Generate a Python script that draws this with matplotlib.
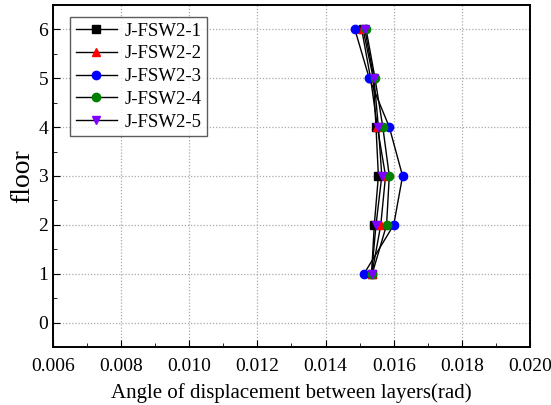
import matplotlib.pyplot as plt
import numpy as np

plt.rcParams['font.family'] = ['Liberation Serif', 'DejaVu Serif']

floors = [1, 2, 3, 4, 5, 6]
fsw1 = [0.01535, 0.01543, 0.01555, 0.01548, 0.01540, 0.01510]
fsw2 = [0.01536, 0.01562, 0.01576, 0.01552, 0.01532, 0.01506]
fsw3 = [0.01513, 0.01600, 0.01626, 0.01587, 0.01528, 0.01486]
fsw4 = [0.01537, 0.01579, 0.01587, 0.01568, 0.01545, 0.01519]
fsw5 = [0.01535, 0.01548, 0.01565, 0.01555, 0.01542, 0.01515]

names = ['J-FSW2-1', 'J-FSW2-2', 'J-FSW2-3', 'J-FSW2-4', 'J-FSW2-5']
series = [fsw1, fsw2, fsw3, fsw4, fsw5]
markers = ['s', '^', 'o', 'o', 'v']
colors = ['black', 'red', 'blue', 'green', '#8000ff']

fig = plt.figure(figsize=(5.51, 4.05), dpi=100)
ax = fig.add_axes([0.096, 0.143, 0.866, 0.845])

for vals, nm, mk, c in zip(series, names, markers, colors):
    ax.plot(vals, floors, color='black', lw=1, marker=mk, markersize=6,
            markerfacecolor=c, markeredgecolor=c, label=nm)

ax.set_xlim(0.006, 0.020)
ax.set_ylim(-0.5, 6.5)
ax.set_xticks(np.arange(0.006, 0.0201, 0.002))
ax.set_xticks(np.arange(0.007, 0.020, 0.002), minor=True)
ax.set_yticks(range(0, 7))
ax.set_yticks(np.arange(-0.5, 6.6, 1), minor=True)
ax.xaxis.set_major_formatter(plt.FormatStrFormatter('%.3f'))
ax.tick_params(direction='in', which='both', labelsize=14)
ax.tick_params(axis='x', which='major', pad=8)
ax.tick_params(which='major', length=5)
ax.tick_params(which='minor', length=3)
ax.grid(True, which='major', linestyle=(0, (1, 1.5)), color='#aaaaaa', lw=0.9)
for s in ax.spines.values():
    s.set_linewidth(1.4)

ax.set_xlabel('Angle of displacement between layers(rad)', fontsize=15, labelpad=6)
ax.set_ylabel('floor', fontsize=20, labelpad=2)

leg = ax.legend(loc='upper left', fontsize=13.5, frameon=True, fancybox=False,
                edgecolor='#333333', handlelength=2.2, borderpad=0.3,
                labelspacing=0.3, handletextpad=0.4, borderaxespad=0,
                bbox_to_anchor=(0.036, 0.965))
leg.get_frame().set_linewidth(1.0)

fig.savefig('out.png', dpi=100)
